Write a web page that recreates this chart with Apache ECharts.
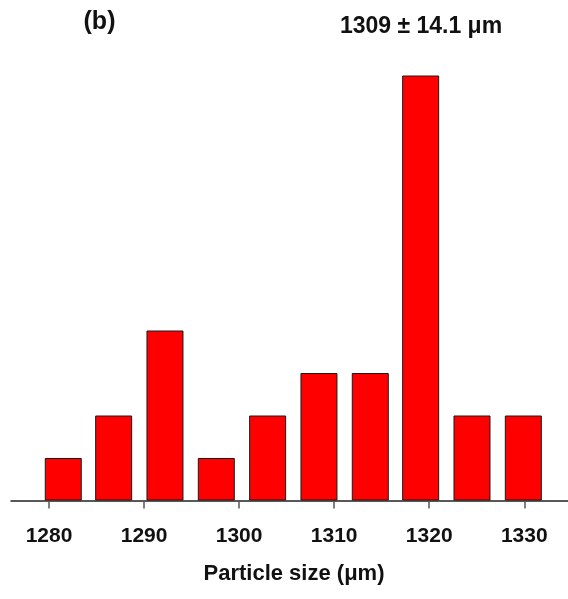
<!DOCTYPE html>
<html>
<head>
<meta charset="utf-8">
<script src="https://cdn.jsdelivr.net/npm/echarts@6/dist/echarts.min.js"></script>
<style>
  html, body { margin: 0; padding: 0; background: #fff; }
  #chart { width: 568px; height: 599px; }
</style>
</head>
<body>
<div id="chart"></div>
<script>
// Histogram bins: centre of each bin (µm) and number of particles in it
const binCenters = [1281.5, 1286.8, 1292.2, 1297.6, 1303.0, 1308.4, 1313.8, 1319.1, 1324.5, 1329.9];
const counts = [1, 2, 4, 1, 2, 3, 3, 10, 2, 2];
const tickValues = [1280, 1290, 1300, 1310, 1320, 1330];
const panelLabel = '(b)';
const statLabel = '1309 ± 14.1 μm';
const axisTitle = 'Particle size (μm)';

const FONT = '"Liberation Sans", Arial, sans-serif';
const chart = echarts.init(document.getElementById('chart'), null, { renderer: 'canvas' });

chart.setOption({
  backgroundColor: '#ffffff',
  animation: false,
  grid: { left: 11, right: 0, top: 75.5, bottom: 98.5 },
  xAxis: {
    type: 'value',
    min: 1276,
    max: 1334.6,
    splitLine: { show: false },
    axisLine: { show: true, onZero: false, lineStyle: { color: '#222', width: 1.5 } },
    axisTick: {
      show: true, length: 8, customValues: tickValues,
      lineStyle: { color: '#555', width: 1.5 }
    },
    axisLabel: {
      customValues: tickValues,
      formatter: v => String(v),
      margin: 25,
      color: '#111',
      fontFamily: FONT,
      fontWeight: 'bold',
      fontSize: 21
    },
    name: axisTitle,
    nameLocation: 'middle',
    nameGap: 62,
    nameTextStyle: {
      color: '#111', fontFamily: FONT, fontWeight: 'bold', fontSize: 22,
      padding: [0, 0, 0, 9]
    }
  },
  yAxis: {
    type: 'value',
    min: 0,
    max: 10,
    show: false
  },
  series: [{
    type: 'bar',
    barWidth: 37,
    data: binCenters.map((c, i) => [c, counts[i]]),
    itemStyle: { color: '#ff0000', borderColor: '#1a1a1a', borderWidth: 1 }
  }],
  graphic: [
    {
      type: 'text', x: 99.5, y: 22,
      style: { text: panelLabel, fill: '#111', font: 'bold 25px ' + FONT, align: 'center', verticalAlign: 'middle' }
    },
    {
      type: 'text', x: 421, y: 27,
      style: { text: statLabel, fill: '#111', font: 'bold 23px ' + FONT, align: 'center', verticalAlign: 'middle' }
    }
  ]
});
</script>
</body>
</html>
